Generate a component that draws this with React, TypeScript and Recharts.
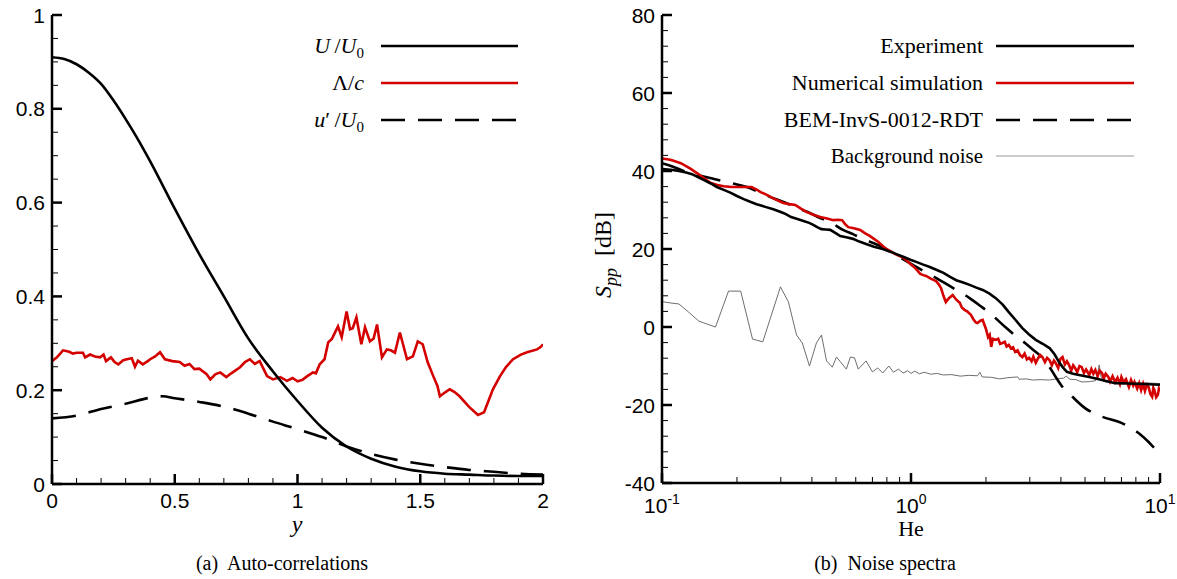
import React from "react";
import { LineChart, Line, XAxis, YAxis } from "recharts";

const SANS = '"Liberation Sans", Arial, Helvetica, sans-serif';
const SERIF = '"Liberation Serif", "Times New Roman", serif';
const RED = "#d40000";

// ---------- (a) Auto-correlations ----------
const leftXTicks = [0, 0.1, 0.2, 0.3, 0.4, 0.5, 0.6, 0.7, 0.8, 0.9, 1, 1.1, 1.2, 1.3, 1.4, 1.5, 1.6, 1.7, 1.8, 1.9, 2];
const leftXMajor = [0, 0.5, 1, 1.5, 2];
const leftYTicks = [0, 0.05, 0.1, 0.15, 0.2, 0.25, 0.3, 0.35, 0.4, 0.45, 0.5, 0.55, 0.6, 0.65, 0.7, 0.75, 0.8, 0.85, 0.9, 0.95, 1];
const leftYMajor = [0, 0.2, 0.4, 0.6, 0.8, 1];

const meanVelocity: [number, number][] = [
  [0, 0.91], [0.05, 0.906], [0.1, 0.895], [0.15, 0.877], [0.2, 0.853], [0.25, 0.818], [0.3, 0.778],
  [0.35, 0.735], [0.4, 0.688], [0.5, 0.587], [0.6, 0.49], [0.7, 0.4], [0.8, 0.31], [0.9, 0.24],
  [1.0, 0.177], [1.1, 0.12], [1.2, 0.08], [1.3, 0.054], [1.4, 0.037], [1.5, 0.027], [1.6, 0.022],
  [1.7, 0.02], [1.8, 0.018], [1.9, 0.017], [2.0, 0.017],
];

const lengthScale: [number, number][] = [
  [0, 0.262], [0.02, 0.27], [0.045, 0.285], [0.07, 0.282], [0.085, 0.278], [0.1, 0.28], [0.126, 0.28],
  [0.135, 0.27], [0.155, 0.276], [0.175, 0.272], [0.196, 0.27], [0.21, 0.276], [0.22, 0.262], [0.24, 0.27],
  [0.255, 0.26], [0.27, 0.255], [0.29, 0.264], [0.305, 0.266], [0.325, 0.268], [0.338, 0.25], [0.35, 0.263],
  [0.37, 0.255], [0.39, 0.262], [0.4, 0.266], [0.42, 0.272], [0.44, 0.281], [0.46, 0.266], [0.49, 0.262],
  [0.52, 0.26], [0.54, 0.252], [0.56, 0.256], [0.58, 0.245], [0.6, 0.246], [0.63, 0.234], [0.645, 0.223],
  [0.665, 0.234], [0.685, 0.238], [0.71, 0.228], [0.73, 0.236], [0.766, 0.249], [0.786, 0.26], [0.806, 0.266],
  [0.826, 0.256], [0.846, 0.262], [0.876, 0.23], [0.9, 0.223], [0.93, 0.228], [0.957, 0.22], [0.98, 0.226],
  [1.0, 0.219], [1.02, 0.222], [1.04, 0.23], [1.063, 0.238], [1.075, 0.236], [1.09, 0.255], [1.11, 0.266],
  [1.125, 0.302], [1.14, 0.309], [1.15, 0.32], [1.165, 0.336], [1.18, 0.313], [1.2, 0.368], [1.214, 0.33],
  [1.225, 0.332], [1.24, 0.355], [1.26, 0.298], [1.275, 0.334], [1.295, 0.304], [1.31, 0.31], [1.324, 0.34],
  [1.344, 0.27], [1.364, 0.287], [1.38, 0.285], [1.397, 0.28], [1.417, 0.323], [1.446, 0.266], [1.47, 0.272],
  [1.49, 0.304], [1.51, 0.298], [1.53, 0.26], [1.553, 0.23], [1.57, 0.209], [1.58, 0.187], [1.6, 0.195],
  [1.62, 0.202], [1.64, 0.196], [1.66, 0.187], [1.7, 0.164], [1.735, 0.147], [1.76, 0.153], [1.78, 0.18],
  [1.796, 0.202], [1.825, 0.23], [1.85, 0.25], [1.878, 0.266], [1.91, 0.276], [1.935, 0.281], [1.976, 0.287],
  [1.99, 0.292], [2.0, 0.298],
];

const turbIntensity: [number, number][] = [
  [0, 0.14], [0.1, 0.146], [0.2, 0.16], [0.3, 0.171], [0.4, 0.184], [0.45, 0.187], [0.5, 0.183],
  [0.6, 0.175], [0.7, 0.165], [0.8, 0.15], [0.9, 0.133], [1.0, 0.117], [1.1, 0.1], [1.2, 0.08],
  [1.3, 0.064], [1.4, 0.052], [1.5, 0.043], [1.6, 0.036], [1.7, 0.03], [1.8, 0.026], [1.9, 0.022], [2.0, 0.02],
];

// ---------- (b) Noise spectra ----------
const rightXTicks = [0.1, 0.2, 0.3, 0.4, 0.5, 0.6, 0.7, 0.8, 0.9, 1, 2, 3, 4, 5, 6, 7, 8, 9, 10];
const rightXMajor = [0.1, 1, 10];
const rightXLabels: Record<string, string> = { "0.1": "-1", "1": "0", "10": "1" };
const rightYTicks = [-40, -36, -32, -28, -24, -20, -16, -12, -8, -4, 0, 4, 8, 12, 16, 20, 24, 28, 32, 36, 40, 44, 48, 52, 56, 60, 64, 68, 72, 76, 80];
const rightYMajor = [-40, -20, 0, 20, 40, 60, 80];

const experiment: [number, number][] = [
  [0.1, 40.5], [0.1086, 40.3], [0.117, 40.0], [0.125, 39.6], [0.132, 39.2], [0.14, 38.4], [0.147, 37.7],
  [0.157, 36.8], [0.166, 35.9], [0.178, 35.1], [0.189, 34.4], [0.2, 33.6], [0.213, 32.8], [0.226, 32.1],
  [0.24, 31.5], [0.26, 30.8], [0.28, 30.2], [0.3, 29.5], [0.313, 29.0], [0.33, 28.2], [0.35, 27.7],
  [0.37, 27.2], [0.39, 26.7], [0.405, 26.2], [0.42, 25.6], [0.437, 25.1], [0.455, 25.0], [0.474, 24.9],
  [0.5, 24.0], [0.52, 23.3], [0.55, 23.0], [0.585, 22.6], [0.62, 21.9], [0.66, 21.3], [0.71, 20.6],
  [0.77, 20.0], [0.81, 19.5], [0.85, 19.0], [0.89, 18.5], [0.93, 18.0], [1.0, 17.2], [1.05, 16.7],
  [1.12, 16.0], [1.19, 15.4], [1.27, 14.6], [1.35, 13.9], [1.43, 12.9], [1.52, 12.0], [1.62, 11.4],
  [1.72, 10.8], [1.83, 10.1], [1.94, 9.5], [2.06, 8.6], [2.19, 7.4], [2.33, 5.8], [2.47, 3.8], [2.63, 1.8],
  [2.8, -0.3], [2.98, -1.9], [3.17, -3.3], [3.38, -4.3], [3.6, -5.4], [3.77, -7.0], [3.93, -9.0],
  [4.08, -10.4], [4.23, -11.5], [4.48, -12.0], [4.73, -12.3], [5.2, -12.8], [5.85, -13.6], [6.6, -14.4],
  [7.5, -14.5], [8.5, -14.6], [10, -14.8],
];

const simulation: [number, number][] = [
  [0.1, 43.2], [0.105, 43.0], [0.109, 42.8], [0.119, 42.0], [0.13, 40.6], [0.14, 39.2], [0.147, 38.2],
  [0.157, 36.9], [0.167, 36.4], [0.177, 36.1], [0.19, 35.9], [0.2, 35.9], [0.215, 35.9], [0.229, 35.9],
  [0.24, 35.2], [0.249, 34.6], [0.265, 33.8], [0.28, 33.0], [0.295, 32.3], [0.307, 31.8], [0.325, 31.5],
  [0.343, 31.3], [0.36, 30.4], [0.38, 29.5], [0.405, 28.8], [0.432, 28.2], [0.46, 27.8], [0.488, 27.4],
  [0.51, 27.5], [0.529, 27.4], [0.545, 26.3], [0.56, 25.6], [0.59, 25.3], [0.625, 24.9], [0.655, 24.0],
  [0.685, 23.3], [0.71, 22.6], [0.74, 21.8], [0.77, 20.8], [0.795, 20.0], [0.83, 19.4], [0.865, 18.7],
  [0.9, 18.2], [0.93, 17.8], [0.97, 16.8], [1.0, 16.0], [1.04, 15.1], [1.07, 14.2], [1.09, 13.6],
  [1.12, 13.3], [1.15, 13.1], [1.2, 12.4], [1.26, 11.8], [1.29, 11.0], [1.32, 10.0], [1.35, 8.0],
  [1.38, 6.4], [1.42, 7.4], [1.47, 8.2], [1.52, 7.0], [1.57, 6.2], [1.6, 5.0], [1.64, 4.4], [1.68, 4.0],
  [1.74, 3.1], [1.78, 2.0], [1.82, 1.2], [1.85, 1.0], [1.9, 1.6], [1.94, 1.8], [2.0, -0.5], [2.04, -2.6],
  [2.07, -2.0], [2.1, -5.1], [2.13, -3.0], [2.19, -3.3], [2.24, -3.0], [2.28, -4.3], [2.33, -4.1],
  [2.38, -3.8], [2.42, -5.0], [2.47, -4.6], [2.52, -5.5], [2.57, -5.2], [2.62, -6.4], [2.68, -6.0],
  [2.74, -7.2], [2.8, -7.7], [2.86, -6.8], [2.92, -8.3], [2.98, -7.9], [3.05, -8.8], [3.1, -7.6],
  [3.17, -9.2], [3.24, -8.0], [3.3, -7.2], [3.37, -7.7], [3.45, -9.0], [3.52, -7.9], [3.6, -8.5],
  [3.68, -9.8], [3.75, -8.6], [3.81, -9.2], [3.9, -10.5], [3.98, -8.2], [4.06, -7.7], [4.15, -9.6],
  [4.23, -8.8], [4.31, -9.7], [4.4, -11.2], [4.48, -9.8], [4.56, -10.5], [4.65, -11.6], [4.75, -10.0],
  [4.85, -10.3], [4.95, -11.8], [5.05, -10.9], [5.2, -12.3], [5.3, -10.8], [5.4, -12.0], [5.5, -11.0],
  [5.62, -12.6], [5.72, -11.2], [5.85, -11.8], [5.95, -13.2], [6.05, -12.0], [6.2, -12.8], [6.3, -14.0],
  [6.45, -12.6], [6.6, -14.1], [6.75, -13.0], [6.9, -14.6], [7.0, -12.8], [7.15, -14.2], [7.3, -13.4],
  [7.5, -15.4], [7.65, -13.6], [7.8, -15.0], [7.9, -14.1], [8.1, -15.8], [8.25, -14.4], [8.4, -16.2],
  [8.55, -14.6], [8.7, -16.4], [8.85, -14.8], [9.0, -15.4], [9.15, -17.2], [9.3, -17.9], [9.4, -15.6],
  [9.5, -16.2], [9.65, -18.0], [9.8, -17.4], [9.9, -15.8], [10.0, -16.5],
];

const bemPrediction: [number, number][] = [
  [0.1, 42.0], [0.1086, 41.3], [0.12, 40.2], [0.132, 39.2], [0.147, 38.6], [0.165, 37.8], [0.189, 36.9],
  [0.219, 35.9], [0.245, 34.6], [0.273, 33.3], [0.3, 32.3], [0.328, 31.3], [0.36, 30.2], [0.394, 29.2],
  [0.43, 28.0], [0.474, 26.9], [0.533, 24.9], [0.59, 23.7], [0.643, 22.6], [0.7, 21.6], [0.77, 20.5],
  [0.85, 18.8], [0.95, 17.0], [1.05, 15.4], [1.15, 14.0], [1.26, 12.6], [1.38, 11.1], [1.52, 9.5],
  [1.72, 7.4], [1.9, 5.4], [2.07, 3.6], [2.39, 0.0], [2.6, -2.0], [2.87, -4.1], [3.1, -5.9], [3.37, -7.9],
  [3.6, -10.3], [3.82, -12.9], [4.06, -15.4], [4.45, -17.9], [5.0, -20.8], [5.85, -23.0], [7.0, -24.6],
  [8.2, -27.2], [9.0, -29.5], [9.5, -31.0], [10, -31.8],
];

const backgroundNoise: [number, number][] = [
  [0.1, 6.5], [0.1086, 6.15], [0.117, 5.9], [0.128, 3.8], [0.1406, 1.5], [0.164, 0.0], [0.185, 9.2],
  [0.207, 9.2], [0.231, -3.1], [0.254, -3.8], [0.299, 10.3], [0.322, 6.4], [0.347, -2.05], [0.366, -4.1],
  [0.391, -10], [0.417, -4.1], [0.437, -2.05], [0.458, -8.7], [0.483, -10.3], [0.502, -7.7], [0.55, -10.8],
  [0.571, -7.7], [0.593, -7.9], [0.614, -10.8], [0.66, -8.7], [0.7, -11.5], [0.735, -10.5], [0.77, -11.8],
  [0.815, -10.0], [0.85, -11.6], [0.89, -10.8], [0.93, -11.8], [0.97, -11.2], [1.0, -11.9], [1.035, -11.3],
  [1.08, -12.0], [1.13, -11.6], [1.2, -12.1], [1.27, -11.9], [1.35, -12.3], [1.45, -12.2], [1.58, -12.6],
  [1.7, -12.4], [1.85, -12.5], [1.89, -11.6], [1.93, -12.8], [2.1, -12.9], [2.27, -13.3], [2.45, -13.0],
  [2.68, -12.8], [2.72, -13.4], [2.9, -13.3], [3.08, -13.6], [3.3, -13.5], [3.6, -13.6], [3.85, -13.3],
  [4.1, -13.1], [4.2, -12.6], [4.35, -13.4], [4.6, -13.5], [4.85, -14.1], [5.2, -14.0], [5.5, -13.8],
  [5.6, -12.5], [5.7, -9.7], [5.8, -12.8], [5.95, -14.0], [6.6, -14.4], [7.5, -14.4], [8.5, -14.3],
  [9.3, -14.4], [10, -14.5],
];

const toRows = (pairs: [number, number][]) => pairs.map(([x, v]) => ({ x, v }));

const isIn = (list: number[], v: number) => list.some((m) => Math.abs(m - v) < 1e-9);

const makeYTick = (majors: number[], fmt: (v: number) => string) => (props: any) => {
  const { x, y, payload } = props;
  const v = payload.value;
  const major = isIn(majors, v);
  return (
    <g>
      <line x1={x} y1={y} x2={x + (major ? 10 : 6)} y2={y} stroke="#000" strokeWidth={major ? 2.5 : 1} />
      {major && (
        <text x={x - 7} y={y} textAnchor="end" dominantBaseline="central" fontFamily={SANS} fontSize={21} fill="#000">
          {fmt(v)}
        </text>
      )}
    </g>
  );
};

const makeXTick = (majors: number[], offset: number, render: (v: number) => React.ReactNode) => (props: any) => {
  const { x, y, payload } = props;
  const v = payload.value;
  const major = isIn(majors, v);
  return (
    <g>
      <line x1={x} y1={y} x2={x} y2={y - (major ? 10 : 6)} stroke="#000" strokeWidth={major ? 2.5 : 1} />
      {major && (
        <text x={x} y={y + offset} textAnchor="middle" fontFamily={SANS} fontSize={21} fill="#000">
          {render(v)}
        </text>
      )}
    </g>
  );
};

const leftYTick = makeYTick(leftYMajor, (v) => String(v));
const leftXTick = makeXTick(leftXMajor, 24, (v) => String(v));
const rightYTick = makeYTick(rightYMajor, (v) => String(v));
const rightXTick = makeXTick(rightXMajor, 30, (v) => (
  <>
    <tspan>10</tspan>
    <tspan dy={-9} fontSize={14}>{rightXLabels[String(v)]}</tspan>
  </>
));

const abs = (left: number, top: number, extra: React.CSSProperties = {}): React.CSSProperties => ({
  position: "absolute",
  left,
  top,
  ...extra,
});

const legendText = (right: number, cy: number, content: React.ReactNode, size = 22) => (
  <div
    style={abs(right - 300, cy - 14, {
      width: 300,
      height: 28,
      lineHeight: "28px",
      textAlign: "right",
      fontFamily: SERIF,
      fontSize: size,
      color: "#000",
      whiteSpace: "nowrap",
    })}
  >
    {content}
  </div>
);

export default function App() {
  const axisLine = { stroke: "#000", strokeWidth: 2.5 };
  return (
    <div style={{ position: "absolute", left: 0, top: 0, width: 1177, height: 579, background: "#fff", overflow: "hidden" }}>
      {/* Left chart */}
      <div style={abs(0, 0)}>
        <LineChart width={560} height={579} margin={{ top: 15, right: 17, bottom: 0, left: 0 }}>
          <XAxis
            dataKey="x"
            type="number"
            domain={[0, 2]}
            ticks={leftXTicks}
            interval={0}
            height={95}
            tickSize={0}
            tickMargin={0}
            tickLine={false}
            axisLine={axisLine}
            tick={leftXTick}
            allowDataOverflow
          />
          <YAxis
            type="number"
            domain={[0, 1]}
            ticks={leftYTicks}
            interval={0}
            width={52}
            tickSize={0}
            tickMargin={0}
            tickLine={false}
            axisLine={axisLine}
            tick={leftYTick}
            allowDataOverflow
          />
          <Line data={toRows(turbIntensity)} dataKey="v" type="monotone" stroke="#000" strokeWidth={2.6} strokeDasharray="24 13" dot={false} isAnimationActive={false} />
          <Line data={toRows(lengthScale)} dataKey="v" type="linear" stroke={RED} strokeWidth={2.6} dot={false} isAnimationActive={false} />
          <Line data={toRows(meanVelocity)} dataKey="v" type="monotone" stroke="#000" strokeWidth={2.6} dot={false} isAnimationActive={false} />
        </LineChart>
      </div>

      {/* Right chart */}
      <div style={abs(600, 0)}>
        <LineChart width={577} height={579} margin={{ top: 15, right: 17, bottom: 0, left: 0 }}>
          <XAxis
            dataKey="x"
            type="number"
            scale="log"
            domain={[0.1, 10]}
            ticks={rightXTicks}
            interval={0}
            height={96}
            tickSize={0}
            tickMargin={0}
            tickLine={false}
            axisLine={axisLine}
            tick={rightXTick}
            allowDataOverflow
          />
          <YAxis
            type="number"
            domain={[-40, 80]}
            ticks={rightYTicks}
            interval={0}
            width={62}
            tickSize={0}
            tickMargin={0}
            tickLine={false}
            axisLine={axisLine}
            tick={rightYTick}
            allowDataOverflow
          />
          <Line data={toRows(backgroundNoise)} dataKey="v" type="linear" stroke="#6e6e6e" strokeWidth={1} dot={false} isAnimationActive={false} />
          <Line data={toRows(bemPrediction)} dataKey="v" type="monotone" stroke="#000" strokeWidth={2.6} strokeDasharray="24 13" dot={false} isAnimationActive={false} />
          <Line data={toRows(simulation)} dataKey="v" type="linear" stroke={RED} strokeWidth={2.6} dot={false} isAnimationActive={false} />
          <Line data={toRows(experiment)} dataKey="v" type="linear" stroke="#000" strokeWidth={2.6} dot={false} isAnimationActive={false} />
        </LineChart>
      </div>

      {/* Legend swatches */}
      <svg width={1177} height={579} style={abs(0, 0, { pointerEvents: "none" })}>
        <line x1={381} y1={46} x2={518} y2={46} stroke="#000" strokeWidth={2.6} />
        <line x1={381} y1={83} x2={518} y2={83} stroke={RED} strokeWidth={2.6} />
        <line x1={381} y1={120} x2={518} y2={120} stroke="#000" strokeWidth={2.6} strokeDasharray="24 13" />
        <line x1={996} y1={46} x2={1134} y2={46} stroke="#000" strokeWidth={2.6} />
        <line x1={996} y1={83} x2={1134} y2={83} stroke={RED} strokeWidth={2.6} />
        <line x1={996} y1={120} x2={1134} y2={120} stroke="#000" strokeWidth={2.6} strokeDasharray="24 13" />
        <line x1={996} y1={156} x2={1134} y2={156} stroke="#999" strokeWidth={1.2} />
      </svg>

      {/* Left legend text */}
      {legendText(364, 46, <span><i>U</i>&thinsp;/<i>U</i><sub style={{ fontSize: 15 }}>0</sub></span>)}
      {legendText(364, 83, <span>Λ/<i>c</i></span>)}
      {legendText(364, 120, <span><i>u</i>′&thinsp;/<i>U</i><sub style={{ fontSize: 15 }}>0</sub></span>)}

      {/* Right legend text */}
      {legendText(983, 46, "Experiment")}
      {legendText(983, 83, "Numerical simulation")}
      {legendText(983, 120, "BEM-InvS-0012-RDT")}
      {legendText(983, 156, "Background noise", 21)}

      {/* Axis titles */}
      <div style={abs(247, 513, { width: 100, textAlign: "center", fontFamily: SERIF, fontStyle: "italic", fontSize: 24, lineHeight: "22px" })}>y</div>
      <div style={abs(861, 518, { width: 100, textAlign: "center", fontFamily: SERIF, fontSize: 22, lineHeight: "22px" })}>He</div>
      <div
        style={abs(503, 240, {
          width: 200,
          height: 30,
          lineHeight: "30px",
          textAlign: "center",
          fontFamily: SERIF,
          fontSize: 24,
          transform: "rotate(-90deg)",
          whiteSpace: "nowrap",
        })}
      >
        <i>S</i><sub style={{ fontSize: 18 }}><i>pp</i></sub>&nbsp;&nbsp;[dB]
      </div>

      {/* Captions */}
      <div style={abs(132, 550, { width: 300, textAlign: "center", fontFamily: SERIF, fontSize: 20, lineHeight: "26px" })}>
        (a)&nbsp; Auto-correlations
      </div>
      <div style={abs(735, 550, { width: 300, textAlign: "center", fontFamily: SERIF, fontSize: 20, lineHeight: "26px" })}>
        (b)&nbsp; Noise spectra
      </div>
    </div>
  );
}
